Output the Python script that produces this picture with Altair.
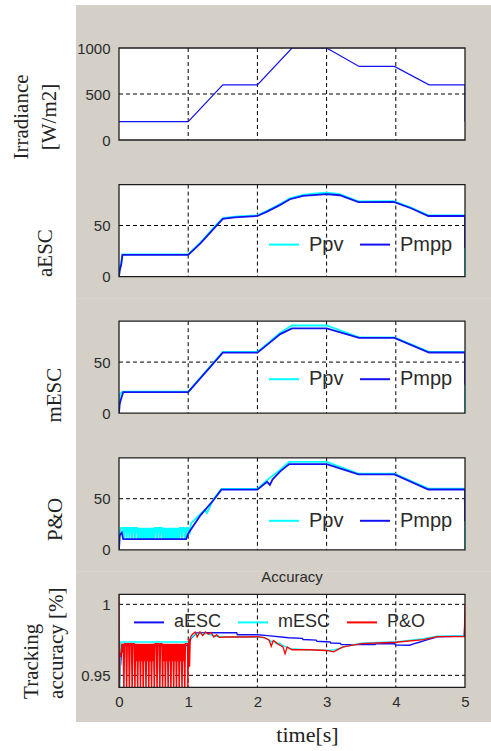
import altair as alt
import pandas as pd

# ------------------------------------------------------------------ data ----
T_TICKS = [0, 1, 2, 3, 4, 5]
T_GRID = [1, 2, 3, 4]

IRR_TICKS = [0, 500, 1000]
IRR_GRID = [500]
P_TICKS = [0, 50]
P_GRID = [50]
ACC_TICKS = [0.95, 1]
ACC_GRID = [0.95, 1]

# irradiance profile
IRR_T = [0.0, 1.0, 1.5, 2.0, 2.5, 3.0, 3.47, 3.98, 4.48, 5.0, 5.0, 5.0]
IRR_V = [200, 200, 600, 600, 1000, 1000, 800, 800, 600, 600, 400, 200]

# aESC powers
AESC_T = [0.0, 0.01, 0.03, 0.05, 1.0, 1.18, 1.37, 1.5, 1.67, 2.0, 2.14, 2.33,
          2.47, 2.66, 2.85, 3.0, 3.19, 3.46, 3.97, 4.22, 4.47, 5.0, 5.0]
AESC_PPV = [0, 10, 12, 21.8, 21.8, 33.5, 48.0, 57.3, 58.6, 59.9, 64.4, 71.0,
            76.6, 80.0, 81.3, 82.0, 80.6, 73.6, 73.8, 67.6, 59.9, 59.9, 0]
AESC_PMPP = [0, 6, 11, 21.2, 21.2, 32.7, 47.0, 56.4, 58.0, 59.3, 63.6, 70.2,
             75.7, 79.0, 80.0, 80.6, 79.6, 72.8, 73.1, 66.9, 59.3, 59.3, 28]

# mESC powers
MESC_T = [0.0, 0.01, 0.03, 0.06, 1.0, 1.5, 2.0, 2.14, 2.33, 2.5, 3.0, 3.47,
          3.98, 4.48, 5.0, 5.0]
MESC_PPV = [0, 18, 20, 21, 21, 59.9, 59.9, 67.8, 78.6, 85.8, 85.8, 74.2,
            74.2, 60.0, 60.0, 0]
MESC_PMPP = [0, 9, 14, 20.6, 20.6, 59.3, 59.3, 66.8, 77.4, 83.0, 83.0, 73.6,
             73.6, 59.4, 59.4, 28]

# sample times of the dense P&O oscillation (0.06-0.98 s)
OSC_T = [0.06, 0.07, 0.08, 0.09, 0.10, 0.11, 0.12, 0.13, 0.14, 0.15,
         0.16, 0.17, 0.18, 0.19, 0.20, 0.21, 0.22, 0.23, 0.24, 0.25,
         0.26, 0.27, 0.28, 0.29, 0.30, 0.31, 0.32, 0.33, 0.34, 0.35,
         0.36, 0.37, 0.38, 0.39, 0.40, 0.41, 0.42, 0.43, 0.44, 0.45,
         0.46, 0.47, 0.48, 0.49, 0.50, 0.51, 0.52, 0.53, 0.54, 0.55,
         0.56, 0.57, 0.58, 0.59, 0.60, 0.61, 0.62, 0.63, 0.64, 0.65,
         0.66, 0.67, 0.68, 0.69, 0.70, 0.71, 0.72, 0.73, 0.74, 0.75,
         0.76, 0.77, 0.78, 0.79, 0.80, 0.81, 0.82, 0.83, 0.84, 0.85,
         0.86, 0.87, 0.88, 0.89, 0.90, 0.91, 0.92, 0.93, 0.94, 0.95,
         0.96, 0.97, 0.98]

# P&O powers
PH, PL = 21.5, 10.5
PO_PPV_HEAD_T = [0.0, 0.01, 0.03, 0.045]
PO_PPV_HEAD = [0, 15, 21.5, 21.5]
PO_PPV_OSC = [PH, PL, PH, PH, PH, PL, PH, PH, PH, PL,
              PH, PH, PH, PL, PH, PH, PH, PL, PH, PH,
              PH, PL, PH, PL, PH, PL, PH, PL, PH, PL,
              PH, PL, PH, PL, PH, PL, PH, PL, PH, PL,
              PH, PL, PH, PL, PH, PL, PH, PH, PH, PL,
              PH, PH, PH, PL, PH, PH, PH, PL, PH, PL,
              PH, PL, PH, PL, PH, PL, PH, PL, PH, PL,
              PH, PL, PH, PL, PH, PL, PH, PL, PH, PL,
              PH, PL, PH, PH, PH, PL, PH, PH, PH, PL,
              PH, PL, PH]
PO_PPV_TAIL_T = [1.0, 1.02, 1.04, 1.18, 1.24, 1.27, 1.37, 1.48, 2.0, 2.14,
                 2.33, 2.46, 3.0, 3.46, 3.98, 4.47, 5.0, 5.0]
PO_PPV_TAIL = [21.5, 15, 26, 35, 39, 36, 50, 59.6, 59.6, 68.2,
               78.3, 86.0, 86.0, 74.6, 74.6, 59.8, 59.8, 0]

PO_PMPP_T = [0.0, 0.01, 0.04, 0.06, 0.97, 1.0, 1.18, 1.37, 1.48, 2.0, 2.14,
             2.18, 2.22, 2.33, 2.46, 3.0, 3.46, 3.98, 4.47, 5.0, 5.0]
PO_PMPP = [0, 14, 17, 10.5, 10.5, 16, 34, 49, 58.8, 58.8, 66.5,
           63.5, 69, 76.8, 83.8, 83.8, 73.8, 73.8, 59.0, 59.0, 28]

# tracking accuracy
ACC_A_T = [0.0, 0.015, 0.025, 0.035, 0.05, 1.0, 1.04, 1.12, 1.32, 1.70, 1.71,
           2.0, 2.15, 2.45, 2.65, 2.66, 2.85, 2.86, 3.05, 3.06, 3.2, 3.21,
           3.7, 3.71, 3.98, 4.0, 4.2, 4.3, 4.45, 4.6, 4.99, 5.0]
ACC_A = [0.935, 0.955, 0.958, 0.966, 0.971, 0.971, 0.976, 0.9798, 0.980, 0.980,
         0.9786, 0.9786, 0.978, 0.9765, 0.976, 0.9752, 0.9748, 0.974, 0.9735,
         0.9728, 0.9725, 0.9716, 0.9716, 0.9722, 0.9723, 0.9714, 0.9712,
         0.9728, 0.975, 0.9772, 0.9777, 0.9887]

ACC_M_T = [0.0, 0.004, 0.012, 0.02, 1.0, 1.03, 1.10, 1.25, 1.40, 1.60, 2.0,
           2.1, 2.18, 2.21, 2.24, 2.27, 2.32, 2.36, 2.4, 2.45, 2.5, 2.75, 3.0,
           3.1, 3.25, 3.5, 4.0, 4.4, 4.6, 5.0]
ACC_M = [0.9735, 0.935, 0.935, 0.9735, 0.9735, 0.976, 0.979, 0.9795, 0.9775,
         0.977, 0.977, 0.9765, 0.9746, 0.9735, 0.9742, 0.9722, 0.9728, 0.9712,
         0.9702, 0.9692, 0.9685, 0.968, 0.9676, 0.9678, 0.970, 0.9726, 0.9736,
         0.9758, 0.9775, 0.9777]

AH, AD, AS = 0.9723, 0.935, 0.960
PO_ACC_OSC = [AH, AD, AH, AH, AH, AD, AH, AH, AH, AD,
              AH, AH, AH, AD, AH, AH, AH, AD, AH, AS,
              AH, AD, AH, AS, AH, AD, AH, AS, AH, AD,
              AH, AS, AH, AD, AH, AS, AH, AD, AH, AS,
              AH, AD, AH, AS, AH, AD, AH, AH, AH, AD,
              AH, AH, AH, AD, AH, AH, AH, AD, AH, AS,
              AH, AD, AH, AS, AH, AD, AH, AS, AH, AD,
              AH, AS, AH, AD, AH, AS, AH, AD, AH, AS,
              AH, AD, AH, AS, AH, AD, AH, AS, AH, AD,
              AH, AH, AH]
PO_ACC_HEAD_T = [0.0, 0.004, 0.012, 0.025, 0.04, 0.05]
PO_ACC_HEAD = [1.01, 0.935, 0.966, 0.963, 0.9723, 0.966]
PO_ACC_TAIL_T = [0.99, 0.995, 1.0, 1.01, 1.02, 1.03, 1.06, 1.10, 1.13, 1.17,
                 1.21, 1.25, 1.29, 1.33, 1.37, 1.41, 1.45, 1.55, 1.80, 2.0,
                 2.1, 2.17, 2.2, 2.23, 2.3, 2.37, 2.4, 2.43, 2.5, 2.75,
                 3.0, 3.1, 3.24, 3.5, 4.0, 4.4, 4.6, 4.99, 5.0]
PO_ACC_TAIL = [0.9723, 0.935, 0.958, 0.9755, 0.956, 0.9765, 0.979, 0.9805,
               0.977, 0.9807, 0.978, 0.9805, 0.979, 0.9802, 0.977, 0.9785,
               0.9768, 0.977, 0.977, 0.9772, 0.9765, 0.9748, 0.9705, 0.9745,
               0.972, 0.970, 0.9652, 0.970, 0.968, 0.968, 0.9675, 0.9665,
               0.970, 0.9724, 0.9733, 0.9752, 0.9772, 0.9772, 1.0]

# ----------------------------------------------------------------- style ----
W, H, H5 = 346, 92, 93
GREY = "#D4D0C8"
TXT = "#2b2b2b"
SANS = "Liberation Sans"
SERIF = "Liberation Serif"
BLUE = "#1212f2"
CYAN = "#00ffff"
RED = "#ff0000"


def frame(t, v, s):
    return pd.DataFrame({"t": t, "v": v, "s": s, "i": list(range(len(t)))})


ONE = pd.DataFrame({"k": [0]})
XS = alt.Scale(domain=[0, 5], nice=False, zero=False)


def yaxis(values, fmt, title, tx, ty, align, lh=0):
    kw = dict(values=values, format=fmt, grid=False, domain=False, ticks=False,
              tickSize=0, labelPadding=9, labelFont=SANS, labelFontSize=15,
              labelColor=TXT, title=title, titleFont=SERIF, titleFontSize=21,
              titleFontWeight="normal", titleColor="#222222", titleAngle=270,
              titleX=tx, titleY=ty, titleAlign=align, titleBaseline="alphabetic",
              zindex=1)
    if lh:
        kw["titleLineHeight"] = lh
    return alt.Axis(**kw)


def backdrop(h, top, bottom, canvas=False):
    base = alt.Chart(ONE)
    out = []
    if canvas:
        out.append(base.mark_rect(color="white").encode(
            x=alt.value(-119), x2=alt.value(372), y=alt.value(-48), y2=alt.value(703)))
    out.append(base.mark_rect(color=GREY).encode(
        x=alt.value(-43), x2=alt.value(372), y=alt.value(top), y2=alt.value(bottom)))
    out.append(base.mark_rect(color="white").encode(
        x=alt.value(0), x2=alt.value(W), y=alt.value(0), y2=alt.value(h)))
    return out


def box(h):
    return alt.Chart(ONE).mark_rect(filled=False, stroke="#1e1e1e", strokeWidth=1.3).encode(
        x=alt.value(0), x2=alt.value(W), y=alt.value(0), y2=alt.value(h))


def grids(h, ys, yax, xax, ygrid):
    vg = alt.Chart(pd.DataFrame({"t": T_GRID})).mark_rule(
        color="black", strokeDash=[4, 3], strokeWidth=1).encode(
        x=alt.X("t:Q", scale=XS, axis=xax), y=alt.value(0), y2=alt.value(h))
    hg = alt.Chart(pd.DataFrame({"v": ygrid})).mark_rule(
        color="black", strokeDash=[4, 3], strokeWidth=1).encode(
        y=alt.Y("v:Q", scale=ys, axis=yax), x=alt.value(0), x2=alt.value(W))
    return [vg, hg]


def series(d, ys, yax, xax, cs, leg, sw):
    return alt.Chart(d).mark_line(clip=True, strokeWidth=sw).encode(
        x=alt.X("t:Q", scale=XS, axis=xax),
        y=alt.Y("v:Q", scale=ys, axis=yax),
        order="i:Q",
        color=alt.Color("s:N", scale=cs, legend=leg))


def legend(lx, ly, size):
    return alt.Legend(orient="none", legendX=lx, legendY=ly, direction="horizontal",
                      title=None, symbolType="stroke", symbolSize=900,
                      symbolStrokeWidth=2, labelFont=SANS, labelFontSize=size,
                      labelColor=TXT, labelOffset=9, columnPadding=12, padding=0)


# ---- panel 1: irradiance
Y1 = alt.Scale(domain=[0, 1000], nice=False, zero=False)
ya1 = yaxis(IRR_TICKS, "d", ["Irradiance", "[W/m2]"], -92, 68.5, "center", 28)
irr = alt.Chart(frame(IRR_T, IRR_V, "Irr")).mark_line(
    clip=True, strokeWidth=1.2, color=BLUE).encode(
    x=alt.X("t:Q", scale=XS, axis=None),
    y=alt.Y("v:Q", scale=Y1, axis=ya1), order="i:Q")
p1 = alt.layer(*backdrop(H, -43, 114, canvas=True), *grids(H, Y1, ya1, None, IRR_GRID),
               irr, box(H)).properties(width=W, height=H)

# ---- panels 2-4: powers
YP = alt.Scale(domain=[0, 90], nice=False, zero=False)
CP = alt.Scale(domain=["Ppv", "Pmpp"], range=[CYAN, BLUE])


def power_panel(title, tx, ty, t_ppv, ppv, t_pmpp, pmpp, ly):
    ya = yaxis(P_TICKS, "d", title, tx, ty, "center")
    leg = legend(149, ly, 20)
    return alt.layer(
        *backdrop(H, -23, 114), *grids(H, YP, ya, None, P_GRID),
        series(frame(t_ppv, ppv, "Ppv"), YP, ya, None, CP, leg, 1.8),
        series(frame(t_pmpp, pmpp, "Pmpp"), YP, ya, None, CP, leg, 1.8),
        box(H)).properties(width=W, height=H)


p2 = power_panel("aESC", -67.5, 68, AESC_T, AESC_PPV, AESC_T, AESC_PMPP, 44)
p3 = power_panel("mESC", -58.5, 73.5, MESC_T, MESC_PPV, MESC_T, MESC_PMPP, 42)
p4 = power_panel("P&O", -57.5, 61,
                 PO_PPV_HEAD_T + OSC_T + PO_PPV_TAIL_T,
                 PO_PPV_HEAD + PO_PPV_OSC + PO_PPV_TAIL,
                 PO_PMPP_T, PO_PMPP, 47)

# ---- panel 5: accuracy
Y5 = alt.Scale(domain=[0.9415, 1.007], nice=False, zero=False)
C5 = alt.Scale(domain=["aESC", "mESC", "P&O"], range=[BLUE, CYAN, RED])
ya5 = yaxis(ACC_TICKS, ".2~f", ["Tracking", "accuracy [%]"], -81.5, 104, "left", 25)
xa5 = alt.Axis(values=T_TICKS, format="d", grid=False, domain=False, ticks=False,
               tickSize=0, labelPadding=7, labelFont=SANS, labelFontSize=15,
               labelColor=TXT, labelFlush=False, labelOverlap=False,
               title="time[s]", titleFont=SERIF, titleFontSize=22,
               titleFontWeight="normal", titleColor="#222222", titleX=188,
               titleY=54, titleAlign="center", titleBaseline="alphabetic",
               zindex=1)
leg5 = legend(14, 12, 18)
p5 = alt.layer(
    *backdrop(H5, -23, 127.6), *grids(H5, Y5, ya5, xa5, ACC_GRID),
    series(frame(ACC_A_T, ACC_A, "aESC"), Y5, ya5, xa5, C5, leg5, 1.4),
    series(frame(ACC_M_T, ACC_M, "mESC"), Y5, ya5, xa5, C5, leg5, 1.4),
    series(frame(PO_ACC_HEAD_T + OSC_T + PO_ACC_TAIL_T,
                 PO_ACC_HEAD + PO_ACC_OSC + PO_ACC_TAIL, "P&O"),
           Y5, ya5, xa5, C5, leg5, 1.3),
    box(H5)).properties(
    width=W, height=H5,
    title=alt.Title("Accuracy", font=SANS, fontSize=15, fontWeight="normal",
                    color=TXT, offset=-14, frame="group"))

chart = alt.vconcat(p1, p2, p3, p4, p5, spacing=44.6, bounds="flush").resolve_scale(
    x="independent", y="independent", color="independent").properties(
    padding=0).configure_view(strokeWidth=0)

chart.save("out.html", embed_options={"renderer": "svg", "actions": False})
